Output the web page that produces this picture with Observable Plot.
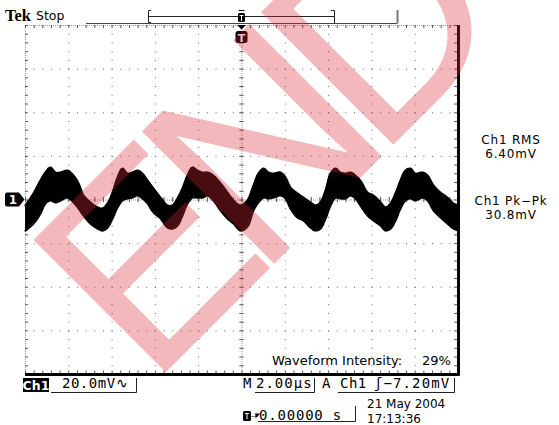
<!DOCTYPE html>
<html><head><meta charset="utf-8">
<script src="https://cdn.jsdelivr.net/npm/d3@7"></script>
<script src="https://cdn.jsdelivr.net/npm/@observablehq/plot@0.6"></script>
<style>body{margin:0;background:#fff} svg{display:block}</style>
</head><body><div id="chart"></div>
<script>
// ---- data (time in µs, voltage in mV) ----
const timeUs = [-10,-9.63,-9.31,-9.08,-8.85,-8.61,-8.38,-8.06,-7.78,-7.55,
  -7.32,-7.00,-6.67,-6.44,-6.21,-5.98,-5.75,-5.52,-5.29,-5.06,
  -4.83,-4.60,-4.36,-4.09,-3.76,-3.44,-3.21,-2.98,-2.75,-2.52,
  -2.29,-2.06,-1.82,-1.59,-1.32,-0.99,-0.67,-0.39,-0.07,0.25,
  0.53,0.76,1.00,1.22,1.45,1.78,2.01,2.24,2.56,2.84,
  3.16,3.39,3.62,3.86,4.09,4.32,4.55,4.78,5.01,5.24,
  5.47,5.80,6.07,6.40,6.63,6.86,7.09,7.32,7.55,7.78,
  8.01,8.34,8.57,8.85,9.17,9.49,9.77,10.0];
const upperMv = [-2.5,3.0,8.9,12.6,14.9,12.6,12.6,13.5,11.2,7.6,
  2.1,-1.1,-3.4,-3.9,-1.6,3.4,10.3,14.4,12.1,12.6,
  13.5,12.1,8.9,5.3,1.1,-2.5,-2.5,0.7,5.3,11.2,
  14.9,13.5,12.6,12.6,11.2,7.6,3.4,-0.2,-2.5,-0.2,
  6.6,12.1,14.4,12.6,12.1,12.6,10.3,5.7,3.0,1.1,
  -1.1,-2.5,-1.1,4.4,12.1,14.4,12.6,12.1,12.6,11.2,
  8.9,3.4,2.1,-1.1,-3.4,-1.6,3.0,8.9,13.5,14.4,
  12.1,12.6,11.2,6.6,3.4,1.1,-1.6,-2.5];
const lowerMv = [-14.0,-10.8,-6.2,-1.6,-0.2,-1.1,-0.2,1.1,-1.1,-3.9,
  -7.1,-10.8,-13.1,-14.0,-12.6,-8.5,-3.4,-0.2,0.7,1.1,
  2.1,0.7,-1.6,-5.7,-8.5,-12.6,-13.1,-11.7,-7.1,-1.6,
  1.1,1.1,1.1,2.1,-0.2,-4.8,-8.5,-10.8,-14.0,-12.2,
  -4.8,-1.1,1.1,0.7,1.1,2.1,0.7,-3.9,-8.0,-9.4,
  -12.6,-14.0,-13.1,-8.5,-2.5,1.1,0.7,0.7,2.1,0.7,
  -2.5,-7.1,-9.4,-11.7,-14.0,-13.1,-9.4,-3.9,-0.2,0.7,
  -0.2,1.1,-0.2,-4.8,-8.0,-10.8,-13.1,-14.0];
const xGridUs = [-8,-6,-4,-2,2,4,6,8];
const yGridMv = [-60,-40,-20,20,40,60];
const minorUs = d3.range(-10, 10.001, 0.4);
const minorMv = d3.range(-80, 80.001, 4);
const measLabels = ["Ch1 RMS", "Ch1 Pk\u2212Pk"];
const measValues = ["6.40mV", "30.8mV"];
const chScale = "20.0mV\u223F";
const timeBase = "2.00\u00B5s";
const trigSource = "Ch1";
const trigLevel = "\u0283\u22127.20mV";
const trigPos = "0.00000 s";
const dateText = "21 May 2004";
const clockText = "17:13:36";
const intensityText = "Waveform Intensity:";
const intensityValue = "29%";

const idx = d3.range(timeUs.length);
const plot = Plot.plot({
  width: 559, height: 425,
  marginLeft: 25, marginTop: 25, marginRight: 101, marginBottom: 51,
  x: {domain: [-10, 10], axis: null},
  y: {domain: [-80, 80], axis: null},
  style: {background: "#fff", overflow: "visible"},
  marks: [
    Plot.ruleX(xGridUs, {stroke: "#666", strokeDasharray: "1 7.725"}),
    Plot.ruleY(yGridMv, {stroke: "#666", strokeDasharray: "1 7.66"}),
    Plot.ruleX([0, -10], {stroke: "#999", strokeDasharray: "1 1"}),
    Plot.ruleY([0, 80], {stroke: "#999", strokeDasharray: "1 1"}),
    Plot.ruleX(minorUs, {y1: -1.2, y2: 1.2, stroke: "#555"}),
    Plot.ruleY(minorMv, {x1: -0.1, x2: 0.1, stroke: "#555"}),
    Plot.ruleX(minorUs, {y1: 80, y2: 78.6, stroke: "#555"}),
    Plot.ruleX(minorUs, {y1: -80, y2: -78.4, stroke: "#555"}),
    Plot.ruleY(minorMv, {x1: -10, x2: -9.86, stroke: "#555"}),
    Plot.ruleY(minorMv, {x1: 9.82, x2: 10, stroke: "#555"}),
    Plot.areaY(idx, {x: i => timeUs[i], y1: i => lowerMv[i], y2: i => upperMv[i], fill: "#000", curve: "catmull-rom"}),
    Plot.lineY(idx, {x: i => timeUs[i], y: i => upperMv[i], stroke: "#000", strokeWidth: 2.2, strokeDasharray: "1.2 1.3", curve: "catmull-rom"}),
    Plot.lineY(idx, {x: i => timeUs[i], y: i => lowerMv[i], stroke: "#000", strokeWidth: 2.2, strokeDasharray: "1.2 1.3", curve: "catmull-rom"}),
    Plot.ruleX([10], {y1: -80.7, y2: 80, stroke: "#000", strokeWidth: 3}),
    Plot.ruleY([-80], {x1: -10, x2: 10.07, stroke: "#000", strokeWidth: 3})
  ]
});
document.getElementById("chart").appendChild(plot);

const svg = d3.select(plot);
const xs = plot.scale("x"), ys = plot.scale("y");
const g = svg.append("g");
const SANS = "'DejaVu Sans', sans-serif", MONO = "'DejaVu Sans Mono', monospace";
function txt(x, y, s, o = {}) {
  return g.append("text").attr("x", x).attr("y", y).text(s)
    .attr("font-family", o.font || SANS).attr("font-size", o.size || 13)
    .attr("font-weight", o.weight || "normal").attr("fill", o.fill || "#000")
    .attr("text-anchor", o.anchor || "start").attr("letter-spacing", o.ls || 0);
}
function path(d, o = {}) {
  return g.append("path").attr("d", d).attr("fill", o.fill || "none")
    .attr("stroke", o.stroke || "none").attr("stroke-width", o.sw || 1);
}
// header
txt(5, 20.5, "Tek", {font: "'Liberation Serif', serif", size: 16.5, weight: "bold"});
txt(36, 19.5, "Stop", {size: 12.5});
path("M86,23.5H397", {stroke: "#444"});
path("M148,16.5H334", {stroke: "#222"});
path("M151,10.5H148.5V22.5H151", {stroke: "#222"});
path("M331,10.5H334.5V23", {stroke: "#222"});
path("M397.5,10V23.5", {stroke: "#777", sw: 2});
const x0 = xs.apply(0);
path(`M${x0-3},10.5H${x0+3}`, {stroke: "#000"});
g.append("rect").attr("x", x0 - 3.5).attr("y", 13).attr("width", 7).attr("height", 9).attr("rx", 1.5).attr("fill", "#000");
path(`M${x0-2},15.5H${x0+2}M${x0},15.5V21`, {stroke: "#fff"});
path(`M${x0-4.5},25L${x0+4.5},25L${x0},29.5Z`, {fill: "#000"});
g.append("rect").attr("x", x0 - 6).attr("y", 31).attr("width", 12).attr("height", 12).attr("rx", 2.5).attr("fill", "#000");
txt(x0, 41.5, "T", {size: 11, weight: "bold", fill: "#fff", anchor: "middle"});
// ground marker
const yg = ys.apply(0);
path(`M5,${yg-5}Q5,${yg-7} 7,${yg-7}L19,${yg-7}L24.5,${yg}L19,${yg+7}L7,${yg+7}Q5,${yg+7} 5,${yg+5}Z`, {fill: "#000"});
txt(13, yg + 4.5, "1", {size: 12, weight: "bold", fill: "#fff", anchor: "middle"});
// measurements
txt(511, 144, measLabels[0], {anchor: "middle", size: 12, ls: 0.8});
txt(511, 158, measValues[0], {anchor: "middle", size: 12, ls: 0.8});
txt(511, 205, measLabels[1], {anchor: "middle", size: 12, ls: 0.8});
txt(511, 219, measValues[1], {anchor: "middle", size: 12, ls: 0.8});
// intensity
txt(272, 365, intensityText, {size: 13});
txt(422, 365, intensityValue, {size: 13});
// bottom bar
g.append("rect").attr("x", 23).attr("y", 378).attr("width", 26).attr("height", 14).attr("fill", "#000");
txt(36, 390, "Ch1", {size: 12.5, weight: "bold", fill: "#fff", anchor: "middle"});
txt(62, 388, chScale, {font: MONO, size: 14, ls: 0.5});
path("M51,392.5H136.5V378", {stroke: "#222"});
txt(243, 388, "M", {font: MONO, size: 14});
txt(256, 388, timeBase, {font: MONO, size: 14, ls: 1});
path("M255,392.5H314.5V378", {stroke: "#222"});
txt(322, 388, "A", {font: MONO, size: 14});
txt(340, 388, trigSource, {font: MONO, size: 14, ls: 0.5});
txt(374, 388, trigLevel, {font: MONO, size: 14, ls: 1.1});
path("M338,392.5H454.5V378", {stroke: "#222"});
g.append("rect").attr("x", 243).attr("y", 411).attr("width", 8).attr("height", 10).attr("rx", 1.5).attr("fill", "#000");
path("M245,413.5H249M247,413.5V419", {stroke: "#fff"});
txt(251, 419, "\u2192", {size: 8});
path("M254.5,413.5L260,413.5L257.2,417Z", {fill: "#000"});
txt(259, 420, trigPos, {font: MONO, size: 14, ls: 0.8});
path("M258,421.5H355.5V406", {stroke: "#222"});
txt(367, 408, dateText, {size: 12});
txt(367, 422.5, clockText, {size: 12});
// watermark
svg.append("text").text("END")
  .attr("transform", "translate(150,388) rotate(-45)")
  .attr("text-anchor", "start")
  .attr("font-family", "'Liberation Sans', Arial, sans-serif")
  .attr("font-size", 272).attr("letter-spacing", -28)
  .attr("fill", "rgb(215,40,50)").attr("fill-opacity", 0.33);
</script></body></html>
